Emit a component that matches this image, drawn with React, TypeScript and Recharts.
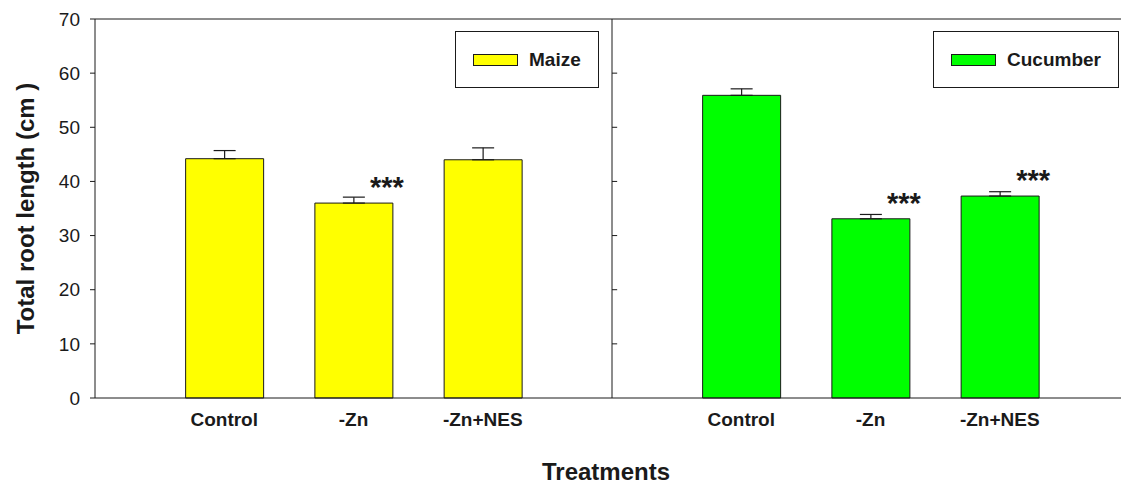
import { ComposedChart, Bar, Cell, ErrorBar, LabelList, XAxis, YAxis, ReferenceLine } from 'recharts';

const treatments = ['Control', '-Zn', '-Zn+NES'];
const crops = ['Maize', 'Cucumber'];
const cropColors = ['#FFFF00', '#00FF00'];

const maizeValues = [44.2, 36.0, 44.0];
const maizeErrors = [1.5, 1.1, 2.2];
const maizeSig = ['', '***', ''];

const cucumberValues = [55.9, 33.1, 37.3];
const cucumberErrors = [1.2, 0.8, 0.8];
const cucumberSig = ['', '***', '***'];

const yTicks = [0, 10, 20, 30, 40, 50, 60, 70];

const font = '"Liberation Sans", Arial, sans-serif';
const ink = '#1a1a1a';

// maize sits at x = 1..3, cucumber at x = 5..7, panel divider at x = 4
const rows = [
  ...treatments.map((t, i) => ({
    x: i + 1, label: t, crop: 0, value: maizeValues[i], err: [0, maizeErrors[i]], sig: maizeSig[i],
  })),
  ...treatments.map((t, i) => ({
    x: i + 5, label: t, crop: 1, value: cucumberValues[i], err: [0, cucumberErrors[i]], sig: cucumberSig[i],
  })),
];

const xTicks = rows.map((r) => r.x);
const labelAt = (v: number) => rows.find((r) => r.x === v)?.label ?? '';

const Stars = (props: any) => {
  const { x, y, width, value } = props;
  if (!value) return null;
  return (
    <text
      x={Number(x) + Number(width) / 2 + 33}
      y={Number(y) - 21 + 15}
      textAnchor="middle"
      fontFamily={font}
      fontWeight="bold"
      fontSize={29}
      fill={ink}
    >
      {value}
    </text>
  );
};

const legendBoxes = [
  { left: 455, width: 144 },
  { left: 933, width: 186 },
];

const CropLegend = () => (
  <>
    {crops.map((c, i) => (
      <div
        key={c}
        style={{
          position: 'absolute',
          left: legendBoxes[i].left,
          top: 31,
          width: legendBoxes[i].width,
          height: 57,
          boxSizing: 'border-box',
          border: `1px solid ${ink}`,
          background: '#fff',
          display: 'flex',
          alignItems: 'center',
          paddingLeft: 17,
        }}
      >
        <span
          style={{
            display: 'inline-block',
            width: 45,
            height: 12,
            boxSizing: 'border-box',
            border: `1px solid ${ink}`,
            background: cropColors[i],
            marginRight: 11,
          }}
        />
        <span style={{ fontFamily: font, fontWeight: 'bold', fontSize: 19, color: ink }}>{c}</span>
      </div>
    ))}
  </>
);

export default function App() {
  return (
    <div style={{ position: 'absolute', left: 0, top: 0, width: 1121, height: 484, overflow: 'hidden', background: '#fff' }}>
      <ComposedChart width={1129} height={484} data={rows} margin={{ top: 19, right: 0, bottom: 0, left: 15 }}>
        <XAxis
          dataKey="x"
          type="number"
          domain={[0, 8]}
          ticks={xTicks}
          tickFormatter={labelAt}
          tickSize={0}
          tickMargin={15}
          height={86}
          axisLine={{ stroke: ink }}
          tick={{ fontFamily: font, fontWeight: 'bold', fontSize: 19, fill: ink }}
          label={{
            value: 'Treatments',
            position: 'insideBottom',
            offset: 4,
            dx: -6,
            style: { fontFamily: font, fontWeight: 'bold', fontSize: 24, fill: ink },
          }}
        />
        <YAxis
          type="number"
          domain={[0, 70]}
          ticks={yTicks}
          width={80}
          tickSize={5}
          tickMargin={10}
          axisLine={{ stroke: ink }}
          tickLine={{ stroke: ink }}
          tick={{ fontFamily: font, fontSize: 19, fill: ink }}
          label={{
            value: 'Total root length (cm )',
            angle: -90,
            position: 'insideLeft',
            offset: 10,
            style: { textAnchor: 'middle', fontFamily: font, fontWeight: 'bold', fontSize: 24, fill: ink },
          }}
        />
        <ReferenceLine y={70} stroke={ink} />
        <ReferenceLine x={4} stroke={ink} />
        {yTicks.slice(1, -1).map((v) => (
          <ReferenceLine key={v} segment={[{ x: 4, y: v }, { x: 4.04, y: v }]} stroke={ink} />
        ))}
        <Bar dataKey="value" barSize={78} stroke={ink} strokeWidth={1} isAnimationActive={false}>
          {rows.map((r) => (
            <Cell key={r.x} fill={cropColors[r.crop]} />
          ))}
          <ErrorBar dataKey="err" width={11} stroke={ink} strokeWidth={1.2} isAnimationActive={false} />
          <LabelList dataKey="sig" content={Stars} />
        </Bar>
      </ComposedChart>
      <CropLegend />
    </div>
  );
}
